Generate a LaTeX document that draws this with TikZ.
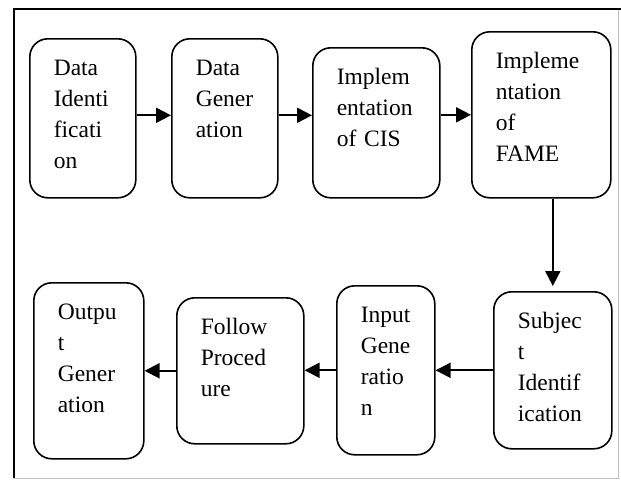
\documentclass[tikz,border=0pt]{standalone}
\usepackage{fontspec}
\setmainfont{Liberation Serif}
\usetikzlibrary{positioning,arrows.meta}

\begin{document}
\begin{tikzpicture}[
    x=1pt, y=-1pt,
    box/.style={draw, line width=1.6pt, rounded corners=18pt, anchor=north west,
                inner xsep=24pt, inner ysep=0pt, text height=37pt, align=left,
                font=\fontsize{23.5}{31}\selectfont},
    arr/.style={-{Triangle[length=15pt,width=15pt]}, line width=2pt},
    frame/.style={line width=1.6pt}
  ]
  \useasboundingbox (0,0) rectangle (621,482);
  % --- Frame ---
  \draw[black!25, line width=1pt] (618,9) -- (618,478) -- (14,478);
  \draw[frame] (14,478) -- (14,9) -- (621,9);

  % --- Top row ---
  \node[box, text width=58pt, text depth=122pt] (dataid) at (29,38) {Data\\Identi\\ficati\\on};
  \node[box, text width=58pt, text depth=122pt] (datagen) at (171,38) {Data\\Gener\\ation};
  \node[box, text width=79pt, text depth=113pt] (implcis) at (312,47) {Implem\\entation\\of CIS};
  \node[box, text width=91pt, text depth=129pt] (implfame) at (471,31) {Impleme\\ntation\\of\\FAME};
  \draw[arr] ([yshift=3pt]dataid.east) -- ([yshift=3pt]datagen.west);
  \draw[arr] ([yshift=3pt]datagen.east) -- ([yshift=3pt]datagen.east -| implcis.west);
  \draw[arr] (implcis.east |- implfame.west) -- (implfame.west);

  % --- Bottom row ---
  \node[box, text width=70pt, text depth=120pt] (subjid) at (493,291) {Subjec\\t\\Identif\\ication};
  \node[box, text width=50pt, text depth=132pt] (inputgen) at (336,285) {Input\\Gene\\ratio\\n};
  \node[box, text width=79pt, text depth=109pt] (follow) at (176,297) {Follow\\Proced\\ure};
  \node[box, text width=62pt, text depth=139pt] (outgen) at (33,282) {Outpu\\t\\Gener\\ation};
  \draw[arr, shorten >=5pt] (implfame.south -| subjid.north) -- (subjid.north);
  \draw[arr] (subjid.west) -- (subjid.west -| inputgen.east);
  \draw[arr] (inputgen.west) -- (inputgen.west -| follow.east);
  \draw[arr] (follow.west) -- (follow.west -| outgen.east);
\end{tikzpicture}
\end{document}
